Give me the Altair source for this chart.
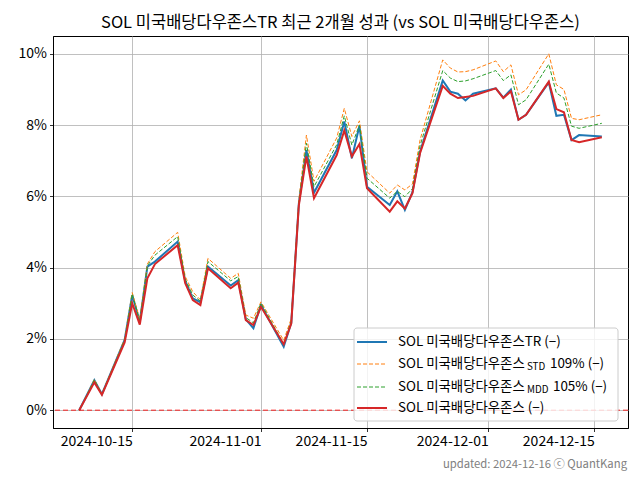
import altair as alt
import pandas as pd

FONT = "Noto Sans CJK KR"

dates = ["2024-10-08", "2024-10-10", "2024-10-11", "2024-10-14", "2024-10-15", "2024-10-16",
         "2024-10-17", "2024-10-18", "2024-10-21", "2024-10-22", "2024-10-23", "2024-10-24",
         "2024-10-25", "2024-10-28", "2024-10-29", "2024-10-30", "2024-10-31", "2024-11-01",
         "2024-11-04", "2024-11-05", "2024-11-06", "2024-11-07", "2024-11-08", "2024-11-11",
         "2024-11-12", "2024-11-13", "2024-11-14", "2024-11-15", "2024-11-18", "2024-11-19",
         "2024-11-20", "2024-11-21", "2024-11-22", "2024-11-25", "2024-11-26", "2024-11-27",
         "2024-11-28", "2024-11-29", "2024-12-02", "2024-12-03", "2024-12-04", "2024-12-05",
         "2024-12-06", "2024-12-09", "2024-12-10", "2024-12-11", "2024-12-12", "2024-12-13",
         "2024-12-16"]

tr = [0.0, 0.84, 0.45, 1.97, 3.23, 2.48, 4.03, 4.17, 4.73, 3.62, 3.14, 3.03, 4.03, 3.50, 3.65,
      2.55, 2.30, 2.95, 1.78, 2.45, 5.80, 7.30, 6.10, 7.30, 8.10, 7.07, 7.98, 6.27, 5.76, 6.14,
      5.62, 6.12, 7.25, 9.25, 8.94, 8.88, 8.69, 8.88, 9.03, 8.77, 9.00, 8.15, 8.29, 9.20, 8.26,
      8.29, 7.58, 7.72, 7.68]
std = [0.0, 0.86, 0.46, 2.00, 3.30, 2.55, 4.10, 4.45, 4.99, 3.75, 3.32, 3.10, 4.26, 3.70, 3.84,
       2.67, 2.58, 3.04, 1.96, 2.57, 5.90, 7.72, 6.42, 7.64, 8.47, 7.68, 8.12, 6.69, 6.09, 6.32,
       6.18, 6.35, 7.58, 9.83, 9.60, 9.49, 9.50, 9.55, 9.80, 9.50, 9.69, 8.85, 8.99, 10.00, 9.13,
       9.00, 8.19, 8.15, 8.29]
mdd = [0.0, 0.85, 0.45, 1.98, 3.26, 2.50, 4.05, 4.35, 4.87, 3.68, 3.23, 3.06, 4.17, 3.63, 3.75,
       2.60, 2.45, 3.00, 1.86, 2.50, 5.85, 7.49, 6.27, 7.45, 8.26, 7.44, 8.00, 6.51, 5.95, 6.14,
       5.99, 6.22, 7.42, 9.53, 9.32, 9.22, 9.24, 9.30, 9.53, 9.25, 9.41, 8.57, 8.71, 9.71, 8.90,
       8.76, 7.97, 7.91, 8.05]
base = [0.0, 0.78, 0.43, 1.90, 3.00, 2.40, 3.70, 4.10, 4.63, 3.56, 3.09, 2.95, 3.98, 3.42, 3.58,
        2.53, 2.39, 2.90, 1.85, 2.43, 5.75, 7.12, 5.95, 7.16, 7.85, 7.12, 7.47, 6.23, 5.57, 5.86,
        5.66, 6.09, 7.21, 9.10, 8.88, 8.76, 8.79, 8.82, 9.03, 8.76, 8.95, 8.15, 8.29, 9.22, 8.45,
        8.36, 7.58, 7.52, 7.66]

series_keys = ["TR", "STD", "MDD", "BASE"]
series_vals = [tr, std, mdd, base]
colors = ["#1f77b4", "#ff7f0e", "#2ca02c", "#d62728"]
y_ticks = [0, 2, 4, 6, 8, 10]
x_ticks = [(2024, 10, 15), (2024, 11, 1), (2024, 11, 15), (2024, 12, 1), (2024, 12, 15)]

title_text = "SOL 미국배당다우존스TR 최근 2개월 성과 (vs SOL 미국배당다우존스)"
footer_text = "updated: 2024-12-16 ⓒ QuantKang"
legend_main = "SOL 미국배당다우존스"
legend_rows = [
    ("TR (−)", None, None),
    ("", "STD", "109% (−)"),
    ("", "MDD", "105% (−)"),
    (" (−)", None, None),
]

rows = []
for key, vals in zip(series_keys, series_vals):
    for d, v in zip(dates, vals):
        rows.append({"date": d + "T00:00:00", "series": key, "value": v})
df = pd.DataFrame(rows)
dummy = pd.DataFrame({"k": [0]})

W, H = 575, 392

x_enc = alt.X(
    "date:T",
    scale=alt.Scale(domain=[alt.DateTime(year=2024, month=10, date=4, hours=13),
                            alt.DateTime(year=2024, month=12, date=19, hours=11)]),
    axis=alt.Axis(values=[alt.DateTime(year=a, month=b, date=c) for a, b, c in x_ticks],
                  format="%Y-%m-%d", title=None, labelFlush=False, labelAlign="right"),
)
y_enc = alt.Y(
    "value:Q",
    scale=alt.Scale(domain=[-0.5, 10.5], nice=False, zero=False),
    axis=alt.Axis(values=y_ticks, labelExpr="datum.value + '%'", title=None),
)

layers = []
styles = [
    dict(strokeWidth=2),
    dict(strokeWidth=1, strokeDash=[4, 2]),
    dict(strokeWidth=1, strokeDash=[4, 2]),
    dict(strokeWidth=2),
]
for key, col, st in zip(series_keys, colors, styles):
    layers.append(
        alt.Chart(df).transform_filter(alt.datum.series == key)
        .mark_line(color=col, **st)
        .encode(x=x_enc, y=y_enc, order="date:T")
    )

layers.append(
    alt.Chart(dummy).mark_rule(color="red", strokeDash=[5, 3], strokeWidth=1, opacity=0.85)
    .encode(y=alt.datum(0))
)

# legend box
layers.append(
    alt.Chart(dummy).mark_rect(fill="white", fillOpacity=0.8, stroke="#cccccc", strokeWidth=1,
                               cornerRadius=3)
    .encode(x=alt.value(301), x2=alt.value(565), y=alt.value(292), y2=alt.value(385))
)

row_y = [306, 328, 351, 372]
sub_x = [None, 474, 474, None]
rest_x = [None, 497, 500, None]
for i, ((suffix, sub, rest), col, st) in enumerate(zip(legend_rows, colors, styles)):
    ry = row_y[i]
    layers.append(
        alt.Chart(dummy).mark_rule(color=col, **st)
        .encode(x=alt.value(304), x2=alt.value(334), y=alt.value(ry))
    )
    layers.append(
        alt.Chart(dummy).mark_text(text=legend_main + suffix, align="left", baseline="middle",
                                   font=FONT, fontSize=13.4, color="black")
        .encode(x=alt.value(345), y=alt.value(ry))
    )
    if sub:
        layers.append(
            alt.Chart(dummy).mark_text(text=sub, align="left", baseline="middle",
                                       font=FONT, fontSize=9.8, color="black")
            .encode(x=alt.value(sub_x[i]), y=alt.value(ry + 3))
        )
        layers.append(
            alt.Chart(dummy).mark_text(text=rest, align="left", baseline="middle",
                                       font=FONT, fontSize=13.4, color="black")
            .encode(x=alt.value(rest_x[i]), y=alt.value(ry))
        )

layers.append(
    alt.Chart(dummy).mark_text(text=title_text, align="center", baseline="middle",
                               font=FONT, fontSize=16.5, color="black")
    .encode(x=alt.value(W / 2), y=alt.value(-13))
)
layers.append(
    alt.Chart(dummy).mark_text(text=footer_text, align="right", baseline="middle",
                               font=FONT, fontSize=11.3, color="#808080")
    .encode(x=alt.value(574), y=alt.value(429))
)

chart = alt.layer(*layers).properties(
    width=W, height=H,
    autosize=alt.AutoSizeParams(type="none"),
    padding={"left": 45, "top": 28, "right": 4, "bottom": 44},
).configure_view(stroke="black", strokeWidth=1).configure_axis(
    labelFont=FONT, labelFontSize=14, labelColor="black",
    tickColor="black", tickSize=3.5, tickWidth=0.8,
    domainColor="black", domainWidth=1,
    gridColor="#b0b0b0", gridWidth=0.8, gridOpacity=1,
    labelPadding=3,
)

chart.save("out.html", embed_options={"renderer": "svg", "actions": False})
